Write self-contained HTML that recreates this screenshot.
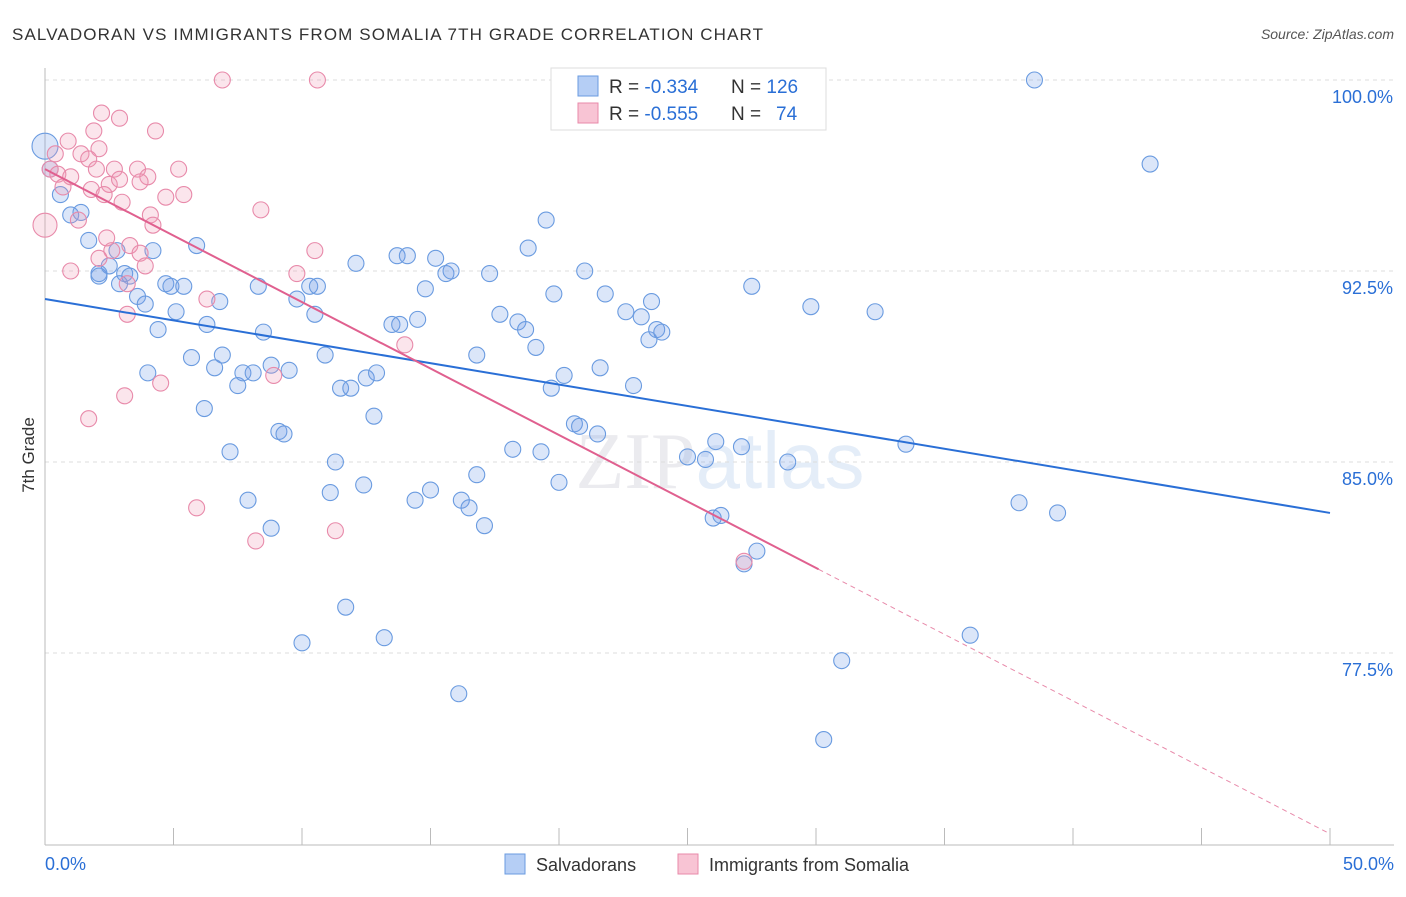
<!DOCTYPE html>
<html><head><meta charset="utf-8"><style>
body{margin:0;background:#fff;font-family:"Liberation Sans",sans-serif;}
svg text{font-family:"Liberation Sans",sans-serif;}
</style></head><body>
<svg id="chart" width="1406" height="892" xmlns="http://www.w3.org/2000/svg">
<text x="12" y="40" font-size="17" fill="#333" textLength="751" lengthAdjust="spacing">SALVADORAN VS IMMIGRANTS FROM SOMALIA 7TH GRADE CORRELATION CHART</text>
<text x="1394" y="39" font-size="14" fill="#555" font-style="italic" text-anchor="end">Source: ZipAtlas.com</text>
<text x="720" y="488" font-size="80" text-anchor="middle"><tspan fill="#ebebef" font-family="Liberation Serif">ZIP</tspan><tspan fill="#e4edf8">atlas</tspan></text>
<g id="grid"></g>
<g id="axes"></g>
<g id="pts"></g>
<g id="lines"></g>
<text transform="translate(34,455) rotate(-90)" font-size="17" fill="#333" text-anchor="middle">7th Grade</text>
<g>
<rect x="551" y="68" width="275" height="62" fill="#fff" stroke="#ddd"/>
<rect x="578" y="76" width="20" height="20" fill="#b5cef5" stroke="#6a9be0"/>
<rect x="578" y="103" width="20" height="20" fill="#f8c4d4" stroke="#e88aaa"/>
<text x="609" y="93" font-size="19" fill="#333">R = <tspan fill="#2a6fd6">-0.334</tspan></text>
<text x="731" y="93" font-size="19" fill="#333">N = <tspan fill="#2a6fd6">126</tspan></text>
<text x="609" y="120" font-size="19" fill="#333">R = <tspan fill="#2a6fd6">-0.555</tspan></text>
<text x="731" y="120" font-size="19" fill="#333">N = </text>
<text x="776" y="120" font-size="19" fill="#2a6fd6">74</text>
</g>
<g>
<rect x="505" y="854" width="20" height="20" fill="#b5cef5" stroke="#6a9be0"/>
<text x="536" y="871" font-size="18" fill="#333">Salvadorans</text>
<rect x="678" y="854" width="20" height="20" fill="#f8c4d4" stroke="#e88aaa"/>
<text x="709" y="871" font-size="18" fill="#333">Immigrants from Somalia</text>
</g>
</svg>
<script>
const yTicks=[100,92.5,85,77.5];
const yTickLabels=["100.0%","92.5%","85.0%","77.5%"];
const xTickVals=[0,5,10,15,20,25,30,35,40,45,50];
const blueX=[38.5,43.0,0.0,0.2,0.6,1.0,1.4,1.7,2.1,2.5,2.8,2.1,3.1,3.3,2.9,3.6,3.9,4.2,4.7,4.9,5.4,5.1,4.4,4.0,5.7,5.9,6.3,6.8,6.6,6.9,6.2,7.2,7.5,7.7,8.1,8.3,8.5,8.8,9.5,7.9,8.8,9.1,9.3,9.8,10.3,10.6,10.5,10.9,11.5,11.9,11.3,11.1,12.4,11.7,10.0,12.1,12.5,12.9,12.8,13.5,13.8,13.7,14.1,14.5,14.8,15.2,15.6,15.8,13.2,14.4,15.0,16.2,16.5,16.8,17.1,16.1,16.8,17.3,17.7,18.4,18.7,19.1,18.8,19.5,19.7,19.8,20.2,18.2,19.3,20.0,20.6,20.8,21.5,21.0,21.6,21.8,22.6,22.9,23.2,23.5,23.6,23.8,24.0,25.0,25.7,26.1,26.0,26.3,27.1,27.5,27.7,27.2,28.9,29.8,32.3,33.5,31.0,30.3,36.0,37.9,39.4];
const blueY=[100.0,96.7,97.4,96.5,95.5,94.7,94.8,93.7,92.3,92.7,93.3,92.4,92.4,92.3,92.0,91.5,91.2,93.3,92.0,91.9,91.9,90.9,90.2,88.5,89.1,93.5,90.4,91.3,88.7,89.2,87.1,85.4,88.0,88.5,88.5,91.9,90.1,88.8,88.6,83.5,82.4,86.2,86.1,91.4,91.9,91.9,90.8,89.2,87.9,87.9,85.0,83.8,84.1,79.3,77.9,92.8,88.3,88.5,86.8,90.4,90.4,93.1,93.1,90.6,91.8,93.0,92.4,92.5,78.1,83.5,83.9,83.5,83.2,84.5,82.5,75.9,89.2,92.4,90.8,90.5,90.2,89.5,93.4,94.5,87.9,91.6,88.4,85.5,85.4,84.2,86.5,86.4,86.1,92.5,88.7,91.6,90.9,88.0,90.7,89.8,91.3,90.2,90.1,85.2,85.1,85.8,82.8,82.9,85.6,91.9,81.5,81.0,85.0,91.1,90.9,85.7,77.2,74.1,78.2,83.4,83.0];
const pinkX=[6.9,10.6,2.2,2.9,4.3,1.9,0.9,0.4,2.1,1.4,1.7,0.2,0.5,1.0,2.0,2.7,3.6,4.0,5.2,0.7,2.5,2.9,3.7,1.8,2.3,5.4,4.7,0.0,1.3,3.0,4.1,4.2,8.4,2.4,3.3,2.6,3.7,3.9,1.0,2.1,10.5,9.8,3.2,6.3,3.2,14.0,4.5,8.9,3.1,1.7,5.9,8.2,11.3,27.2];
const pinkY=[100,100,98.7,98.5,98.0,98.0,97.6,97.1,97.3,97.1,96.9,96.5,96.3,96.2,96.5,96.5,96.5,96.2,96.5,95.8,95.9,96.1,96.0,95.7,95.5,95.5,95.4,94.3,94.5,95.2,94.7,94.3,94.9,93.8,93.5,93.3,93.2,92.7,92.5,93.0,93.3,92.4,92.0,91.4,90.8,89.6,88.1,88.4,87.6,86.7,83.2,81.9,82.3,81.1];
const blueFit=[91.4,-0.168];
const pinkFit=[96.5,-0.522];
const pinkSolidEnd=30.1;

const NS="http://www.w3.org/2000/svg";
const X0=45,X1=1330,Y100=80,PX_PER=191/7.5;
const sx=v=>X0+(v/50)*(X1-X0);
const sy=v=>Y100+(100-v)*PX_PER;
function mk(tag,attrs,parent){const e=document.createElementNS(NS,tag);for(const k in attrs)e.setAttribute(k,attrs[k]);document.getElementById(parent).appendChild(e);return e;}
yTicks.forEach((t,i)=>{
 const g=mk('line',{x1:X0,x2:1394,y1:sy(t),y2:sy(t),stroke:'#ddd','stroke-dasharray':'4,4'},'grid');
 
 
 const tx=mk('text',{x:1393,y:sy(t)+23,'font-size':18,fill:'#2a6fd6','text-anchor':'end'},'axes');
 tx.textContent=yTickLabels[i];
 
 
});
const ax=mk('line',{x1:X0,x2:X0,y1:68,y2:845,stroke:'#bbb'},'axes');


const bx=mk('line',{x1:X0,x2:1394,y1:845,y2:845,stroke:'#bbb'},'axes');


xTickVals.forEach(v=>{
 const t=mk('line',{x1:sx(v),x2:sx(v),y1:828,y2:845,stroke:'#bbb'},'axes');
 
 
});
[[0,"0.0%","start",45],[50,"50.0%","end",1394]].forEach(a=>{
 const t=mk('text',{x:a[3],y:870,'font-size':18,fill:'#2a6fd6','text-anchor':a[2]},'axes');
 t.textContent=a[1];
 
 
});
blueX.forEach((x,i)=>{
 const r=(x<0.1)?13:8;
 const c=mk('circle',{cx:sx(x),cy:sy(blueY[i]),r:r,fill:'rgba(110,155,230,0.25)',stroke:'#6a9be0','stroke-width':1.1},'pts');
 
 
});
pinkX.forEach((x,i)=>{
 const r=(x<0.1)?12:8;
 const c=mk('circle',{cx:sx(x),cy:sy(pinkY[i]),r:r,fill:'rgba(240,150,180,0.25)',stroke:'#e88aaa','stroke-width':1.1},'pts');
 
 
});
const bl=mk('line',{x1:sx(0),y1:sy(blueFit[0]),x2:sx(50),y2:sy(blueFit[0]+blueFit[1]*50),stroke:'#2a6fd6','stroke-width':2},'lines');


const pl=mk('line',{x1:sx(0),y1:sy(pinkFit[0]),x2:sx(pinkSolidEnd),y2:sy(pinkFit[0]+pinkFit[1]*pinkSolidEnd),stroke:'#e0608f','stroke-width':2},'lines');


const pd=mk('line',{x1:sx(pinkSolidEnd),y1:sy(pinkFit[0]+pinkFit[1]*pinkSolidEnd),x2:sx(50),y2:sy(pinkFit[0]+pinkFit[1]*50),stroke:'#e88aaa','stroke-width':1,'stroke-dasharray':'5,4'},'lines');


</script>
</body></html>
